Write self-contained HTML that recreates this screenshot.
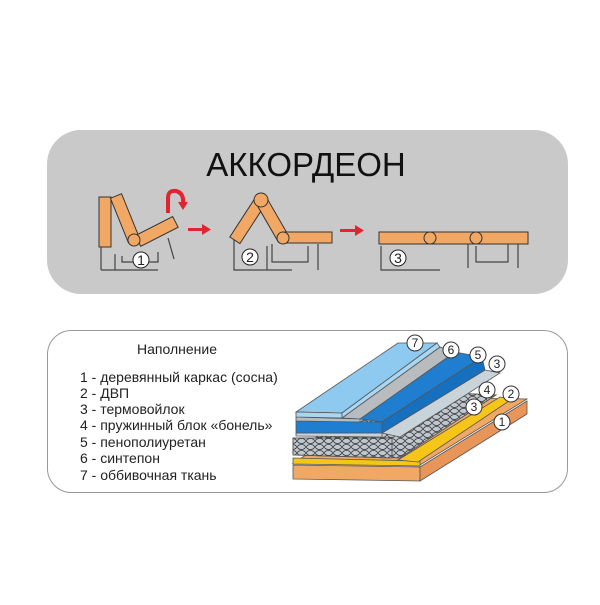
<!DOCTYPE html>
<html><head><meta charset="utf-8"><style>
body{margin:0;background:#fff;width:600px;height:600px;overflow:hidden;font-family:"Liberation Sans",sans-serif}
</style></head><body>
<svg width="600" height="600" viewBox="0 0 600 600" xmlns="http://www.w3.org/2000/svg" font-family="Liberation Sans, sans-serif">
<rect x="47" y="130" width="521" height="164" rx="34" fill="#c9c9c9"/>
<text x="306" y="176" font-size="33" text-anchor="middle" fill="#111">АККОРДЕОН</text>
<g stroke="#333" stroke-width="1" fill="#f2a865">
<rect x="99" y="197" width="12" height="50"/>
<rect x="-6" y="0" width="12" height="48" transform="translate(116,196) rotate(-22)"/>
<rect x="0" y="-6" width="42" height="12" transform="translate(138,241) rotate(-27)"/>
<circle cx="134" cy="240" r="6"/>
<rect x="-6" y="0" width="12" height="48" transform="translate(261,200) rotate(33)"/>
<rect x="-6" y="0" width="12" height="45" transform="translate(261,200) rotate(-30)"/>
<circle cx="261" cy="200" r="7"/>
<rect x="283" y="232" width="49" height="11"/>
<circle cx="283" cy="238" r="6"/>
<rect x="379" y="232" width="149" height="12"/>
<circle cx="430" cy="238" r="6"/>
<circle cx="476" cy="238" r="6"/>
</g>
<g stroke="#444" stroke-width="1.2" fill="none">
<path d="M101 247V270M101 270H158M115 254V270M122 256V262H158V252M168 238L174 259"/>
<path d="M234 240V270H292M267 246V270M272 244V262H308V246M318 244V270"/>
<path d="M381 246V270H440M468 244V268M476 246V262H508V244M518 244V268"/>
</g>
<path d="M168 213V198Q168 190 176 191Q184 193 183 203" stroke="#e02530" stroke-width="4" fill="none"/>
<polygon points="178,202 188,202 183,210" fill="#e02530"/>
<g fill="#e02530"><rect x="188" y="228" width="15" height="3"/><polygon points="202,224 211,229.5 202,235"/>
<rect x="340" y="229" width="16" height="3"/><polygon points="355,225 364,230.5 355,236"/></g>
<g font-size="12" text-anchor="middle" fill="#222" stroke="#222">
<circle cx="141" cy="260" r="8" fill="#fff"/><text x="141" y="265" stroke="none" font-size="14">1</text>
<circle cx="250" cy="257" r="8" fill="#fff"/><text x="250" y="262" stroke="none" font-size="14">2</text>
<circle cx="398" cy="258" r="8" fill="#fff"/><text x="398" y="263" stroke="none" font-size="14">3</text>
</g>
<rect x="47.5" y="330.5" width="520" height="162" rx="24" fill="#fff" stroke="#999"/>
<g font-size="14" fill="#222">
<text x="137" y="354">Наполнение</text>
<text x="80" y="382">1 - деревянный каркас (сосна)</text>
<text x="80" y="398">2 - ДВП</text>
<text x="80" y="414">3 - термовойлок</text>
<text x="80" y="430">4 - пружинный блок «бонель»</text>
<text x="80" y="447">5 - пенополиуретан</text>
<text x="80" y="463">6 - синтепон</text>
<text x="80" y="480">7 - оббивочная ткань</text>
</g>
<defs><pattern id="sp" width="9" height="6" patternUnits="userSpaceOnUse"><ellipse cx="4.5" cy="3" rx="4" ry="2.5" fill="none" stroke="#333" stroke-width="0.8"/></pattern></defs>
<g stroke="#555" stroke-width="0.8">
<polygon points="293,463 420,465 527,399 400,397" fill="#f2a865"/>
<polygon points="293,465 420,467 420,481 293,479" fill="#f2a865"/>
<polygon points="420,467 527,401 527,414 420,481" fill="#e8955a"/>
<polygon points="293,458 420,461 420,466 293,464" fill="#f5c518"/>
<polygon points="398,460 418,462 512,399 500,397" fill="#f5c518"/>
<polygon points="293,452 400,458 496,395 390,390" fill="#bfc8cf"/>
<polygon points="293,452 400,458 496,395 390,390" fill="url(#sp)"/>
<polygon points="293,438 392,438 392,458 293,455" fill="#bfc8cf"/>
<polygon points="293,438 392,438 392,458 293,455" fill="url(#sp)"/>
<polygon points="382,433 400,437 500,373 485,370" fill="#c9d3da"/>
<polygon points="296,433 382,433 382,437 296,436" fill="#c9d3da"/>
<polygon points="360,419 382,422 482,357 455,352" fill="#1f7ed0"/>
<polygon points="296,421 382,422 382,433 296,433" fill="#1f7ed0"/>
<polygon points="382,422 482,357 485,370 382,433" fill="#1670c0"/>
<polygon points="342,418 360,419 455,352 440,347" fill="#b8bcbf"/>
<polygon points="296,417 360,419 360,422 296,421" fill="#b8bcbf"/>
<polygon points="296,412 342,413 437,343 398,343" fill="#8ec9ef"/>
<polygon points="296,412 342,413 342,418 296,417" fill="#a8d6f3"/>
<polygon points="342,413 437,343 440,347 342,418" fill="#a8d6f3"/>
</g>
<g font-size="12" text-anchor="middle" fill="#222" stroke="#333">
<circle cx="415" cy="343" r="8" fill="#fff"/><text x="415" y="347" stroke="none">7</text>
<circle cx="451" cy="350" r="8" fill="#fff"/><text x="451" y="354" stroke="none">6</text>
<circle cx="478" cy="355" r="8" fill="#fff"/><text x="478" y="359" stroke="none">5</text>
<circle cx="497" cy="364" r="8" fill="#fff"/><text x="497" y="368" stroke="none">3</text>
<circle cx="487" cy="390" r="8" fill="#fff"/><text x="487" y="394" stroke="none">4</text>
<circle cx="474" cy="407" r="8" fill="#fff"/><text x="474" y="411" stroke="none">3</text>
<circle cx="511" cy="394" r="8" fill="#fff"/><text x="511" y="398" stroke="none">2</text>
<circle cx="502" cy="422" r="8" fill="#fff"/><text x="502" y="426" stroke="none">1</text>
</g>
</svg>
</body></html>
